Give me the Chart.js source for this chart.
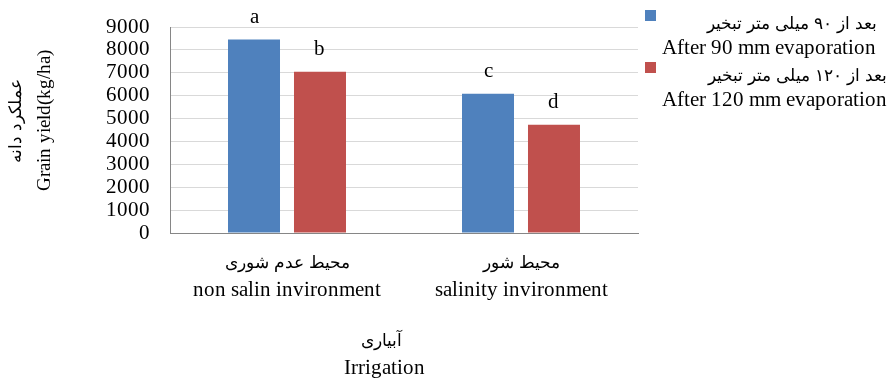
<!DOCTYPE html>
<html><head><meta charset="utf-8">
<script src="https://cdn.jsdelivr.net/npm/chart.js@4"></script>
<style>
@font-face { font-family: 'Mix'; src: local('Liberation Serif'), local('LiberationSerif'); unicode-range: U+0000-05FF, U+2000-206F; }
@font-face { font-family: 'Mix'; src: local('DejaVu Sans'), local('DejaVuSans'); unicode-range: U+0600-06FF, U+FB50-FDFF, U+FE70-FEFF, U+200C-200F; size-adjust: 80%; }
html,body{margin:0;padding:0;background:#fff}#wrap{width:888px;height:381px;position:relative}
</style>
</head><body><div id="wrap"><canvas id="c" width="888" height="381"></canvas></div>
<script>
const categories = [["محیط عدم شوری", "non salin invironment"], ["محیط شور", "salinity invironment"]];
const series90 = [8450, 6080];
const series120 = [7050, 4730];
const letters90 = ["a", "c"];
const letters120 = ["b", "d"];
const legend90 = ["بعد از ۹۰ میلی متر تبخیر", "After 90 mm evaporation"];
const legend120 = ["بعد از ۱۲۰ میلی متر تبخیر", "After 120 mm evaporation"];
const yMin = 0, yMax = 9000, yStep = 1000;
const yTitle = ["عملکرد دانه", "Grain yield(kg/ha)"];
const xTitle = ["آبیاری", "Irrigation"];

const FONT = "Mix, 'Liberation Serif', 'DejaVu Sans', serif";
const BLUE = '#4f81bd', RED = '#c0504d';

const letterPlugin = {
  id: 'letters',
  afterDatasetsDraw(chart) {
    const ctx = chart.ctx;
    ctx.save();
    ctx.font = '21px ' + FONT;
    ctx.fillStyle = '#000';
    ctx.textAlign = 'center';
    ctx.textBaseline = 'alphabetic';
    chart.data.datasets.forEach((ds, i) => {
      chart.getDatasetMeta(i).data.forEach((bar, j) => {
        ctx.fillText(ds.letters[j], bar.x, bar.y - 17);
      });
    });
    ctx.restore();
  }
};

const textPlugin = {
  id: 'texts',
  afterDraw(chart) {
    const ctx = chart.ctx;
    ctx.save();
    ctx.fillStyle = '#000';
    ctx.textBaseline = 'middle';
    ctx.font = '21px ' + FONT;
    const items = [{c: BLUE, t: legend90, y: 10, r: 877}, {c: RED, t: legend120, y: 62, r: 887}];
    items.forEach(it => {
      ctx.fillStyle = it.c;
      ctx.fillRect(645, it.y, 11, 11);
      ctx.fillStyle = '#000';
      ctx.textAlign = 'right';
      ctx.fillText(it.t[0], it.r, it.y + 13);
      ctx.textAlign = 'left';
      ctx.fillText(it.t[1], 662, it.y + 38);
    });
    ctx.textAlign = 'center';
    ctx.fillText(xTitle[0], 381, 340);
    ctx.fillText(xTitle[1], 384, 368);
    ctx.save();
    ctx.rotate(-Math.PI / 2);
    ctx.font = '21px ' + FONT;
    ctx.fillText(yTitle[0], -121, 15);
    ctx.font = '19px ' + FONT;
    ctx.fillText(yTitle[1], -120, 45);
    ctx.restore();
    ctx.restore();
  }
};

function draw() {
  new Chart(document.getElementById('c'), {
    type: 'bar',
    data: {
      labels: categories,
      datasets: [
        {label: legend90.join(' '), data: series90, backgroundColor: BLUE, letters: letters90, categoryPercentage: 0.564, barPercentage: 0.788},
        {label: legend120.join(' '), data: series120, backgroundColor: RED, letters: letters120, categoryPercentage: 0.564, barPercentage: 0.788}
      ]
    },
    options: {
      responsive: false,
      animation: false,
      layout: {padding: {top: 27, right: 250, left: 0, bottom: 0}},
      plugins: {legend: {display: false}, tooltip: {enabled: false}},
      scales: {
        x: {
          grid: {display: false, drawTicks: false},
          border: {color: '#868686', width: 1},
          ticks: {color: '#000', font: {family: FONT, size: 21, lineHeight: 1.36}, padding: 15, maxRotation: 0, autoSkip: false},
          title: {display: false},
          afterFit(s) { s.height = 148; s.paddingLeft = 0; s.paddingRight = 0; }
        },
        y: {
          min: yMin, max: yMax,
          grid: {color: '#d9d9d9', drawTicks: false},
          border: {color: '#868686', width: 1},
          ticks: {color: '#000', font: {family: FONT, size: 21}, padding: 20, stepSize: yStep, autoSkip: false, callback: v => String(v)},
          title: {display: false},
          afterFit(s) { s.width = 170; s.paddingTop = 0; s.paddingBottom = 0; }
        }
      }
    },
    plugins: [letterPlugin, textPlugin]
  });
}
Promise.all([
  document.fonts.load('21px Mix', 'aآ'),
  document.fonts.load('21px Mix', 'بعد')
]).then(draw, draw);
</script></body></html>
